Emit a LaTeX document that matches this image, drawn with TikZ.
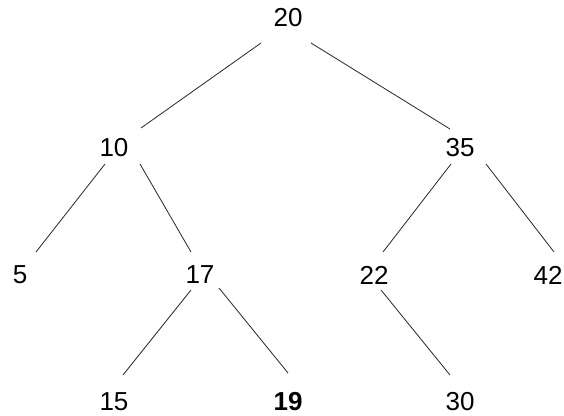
\documentclass[tikz,border=0pt]{standalone}
\usepackage{fontspec}
\setmainfont{Liberation Sans}
\begin{document}
\begin{tikzpicture}[x=1pt,y=-1pt,
  lbl/.style={font=\fontsize{26}{30}\selectfont, inner sep=0pt, text=black},
  link/.style={line width=0.8pt, draw=black!85}]
\useasboundingbox (0,0) rectangle (564,415);
\node[lbl] (n20) at (288,18) {20};
\node[lbl] (n10) at (114,148) {10};
\node[lbl] (n35) at (460,148) {35};
\node[lbl] (n5)  at (20,275) {5};
\node[lbl] (n17) at (200,275) {17};
\node[lbl] (n22) at (374,275) {22};
\node[lbl] (n42) at (548,275) {42};
\node[lbl] (n15) at (114,402) {15};
\node[lbl,font=\fontsize{26}{30}\selectfont\bfseries] (n19) at (288,402) {19};
\node[lbl] (n30) at (460,402) {30};
\draw[link] ([shift={(-27,25)}]n20.center) -- ([shift={(27,-20)}]n10.center);
\draw[link] ([shift={(23,25)}]n20.center) -- ([shift={(-10,-19)}]n35.center);
\draw[link] ([shift={(-9,16)}]n10.center) -- ([shift={(16,-23)}]n5.center);
\draw[link] ([shift={(26,16)}]n10.center) -- ([shift={(-9,-23)}]n17.center);
\draw[link] ([shift={(-9,16)}]n35.center) -- ([shift={(9,-23)}]n22.center);
\draw[link] ([shift={(26,16)}]n35.center) -- ([shift={(6,-23)}]n42.center);
\draw[link] ([shift={(-9,15)}]n17.center) -- ([shift={(9,-27)}]n15.center);
\draw[link] ([shift={(19,13)}]n17.center) -- ([shift={(0,-29)}]n19.center);
\draw[link] ([shift={(7,15)}]n22.center) -- ([shift={(-10,-27)}]n30.center);
\end{tikzpicture}
\end{document}
